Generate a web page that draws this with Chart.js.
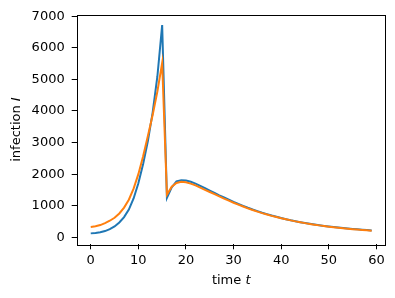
<!DOCTYPE html>
<html>
<head>
<meta charset="utf-8">
<script src="https://cdn.jsdelivr.net/npm/chart.js@4.4.0/dist/chart.umd.min.js"></script>
<style>
  body { margin: 0; background: #fff; }
  #chart { display: block; }
</style>
</head>
<body>
<canvas id="chart" width="395" height="298"></canvas>
<script>
// time steps
const time = [
  0, 1, 2, 3, 4, 5, 6, 7, 8, 9, 10, 11, 12, 13, 14, 15, 16, 17, 18, 19,
  20, 21, 22, 23, 24, 25, 26, 27, 28, 29, 30, 31, 32, 33, 34, 35, 36, 37, 38, 39,
  40, 41, 42, 43, 44, 45, 46, 47, 48, 49, 50, 51, 52, 53, 54, 55, 56, 57, 58, 59,
];

// blue curve
const infectionA = [
  125, 138, 160, 198, 258, 345, 470, 640, 880, 1230,
  1710, 2320, 3050, 3950, 5100, 6720, 1250, 1580, 1770, 1810,
  1800, 1760, 1700, 1630, 1555, 1480, 1405, 1330, 1260, 1190,
  1120, 1055, 995, 935, 880, 830, 780, 735, 690, 650,
  610, 575, 540, 510, 480, 452, 427, 403, 381, 360,
  342, 325, 308, 293, 278, 265, 252, 240, 228, 217,
];

// orange curve
const infectionB = [
  330, 348, 388, 450, 525, 620, 755, 940, 1190, 1540,
  2000, 2570, 3210, 3870, 4620, 5520, 1350, 1600, 1720, 1760,
  1745, 1700, 1645, 1575, 1505, 1435, 1365, 1295, 1225, 1160,
  1095, 1035, 975, 918, 864, 814, 766, 722, 680, 641,
  603, 569, 536, 505, 476, 449, 424, 400, 378, 357,
  338, 320, 303, 288, 273, 259, 246, 234, 222, 211,
];

const xTicks = [0, 10, 20, 30, 40, 50, 60];
const yTicks = [0, 1000, 2000, 3000, 4000, 5000, 6000, 7000];

const font = "DejaVu Sans";
const fontSize = 13;

// box around plot area + axis titles with italic symbols
const frame = {
  id: "frame",
  afterDraw(c) {
    const ctx = c.ctx;
    const a = c.chartArea;
    ctx.save();
    ctx.strokeStyle = "#000";
    ctx.lineWidth = 1;
    ctx.strokeRect(Math.round(a.left) + 0.5, Math.round(a.top) + 0.5,
      Math.round(a.right - a.left) - 1, Math.round(a.bottom - a.top));
    ctx.fillStyle = "#000";
    ctx.textBaseline = "alphabetic";

    const normal = fontSize + "px '" + font + "'";
    const italic = "italic " + fontSize + "px '" + font + "'";

    // x title
    ctx.font = normal;
    let w1 = ctx.measureText("time ").width;
    ctx.font = italic;
    let w2 = ctx.measureText("t").width;
    let x0 = (a.left + a.right) / 2 - (w1 + w2) / 2;
    ctx.font = normal;
    ctx.fillText("time ", x0, 284);
    ctx.font = italic;
    ctx.fillText("t", x0 + w1, 284);

    // y title
    ctx.translate(20, (a.top + a.bottom) / 2);
    ctx.rotate(-Math.PI / 2);
    ctx.font = normal;
    w1 = ctx.measureText("infection ").width;
    ctx.font = italic;
    w2 = ctx.measureText("I").width;
    x0 = -(w1 + w2) / 2;
    ctx.font = normal;
    ctx.fillText("infection ", x0, 0);
    ctx.font = italic;
    ctx.fillText("I", x0 + w1, 0);
    ctx.restore();
  },
};

const chart = document.querySelector("#chart").getContext("2d");

new Chart(chart, {
  type: "line",
  data: {
    datasets: [
      {
        data: time.map((t, i) => ({ x: t, y: infectionA[i] })),
        borderColor: "#1f77b4",
        borderWidth: 2,
        pointRadius: 0,
        tension: 0,
        order: 2,
      },
      {
        data: time.map((t, i) => ({ x: t, y: infectionB[i] })),
        borderColor: "#ff7f0e",
        borderWidth: 2,
        pointRadius: 0,
        tension: 0,
        order: 1,
      },
    ],
  },
  options: {
    responsive: false,
    animation: false,
    layout: { padding: { top: 14, right: 9.3, left: 0, bottom: 0 } },
    plugins: { legend: { display: false }, tooltip: { enabled: false } },
    scales: {
      x: {
        type: "linear",
        min: -2.95,
        max: 61.95,
        afterBuildTicks: (s) => { s.ticks = xTicks.map((v) => ({ value: v })); },
        afterFit: (s) => { s.height = 53.7; },
        grid: { drawOnChartArea: false, tickLength: 5, tickColor: "#000" },
        border: { display: false },
        ticks: {
          color: "#000",
          padding: 4,
          maxRotation: 0,
          font: { family: font, size: fontSize },
          callback: (v) => String(v),
        },
      },
      y: {
        min: -221,
        max: 7045,
        afterBuildTicks: (s) => { s.ticks = yTicks.map((v) => ({ value: v })); },
        afterFit: (s) => { s.width = 76.7; },
        grid: { drawOnChartArea: false, tickLength: 5, tickColor: "#000" },
        border: { display: false },
        ticks: {
          color: "#000",
          padding: 7,
          font: { family: font, size: fontSize },
          callback: (v) => String(v),
        },
      },
    },
  },
  plugins: [frame],
});
</script>
</body>
</html>
